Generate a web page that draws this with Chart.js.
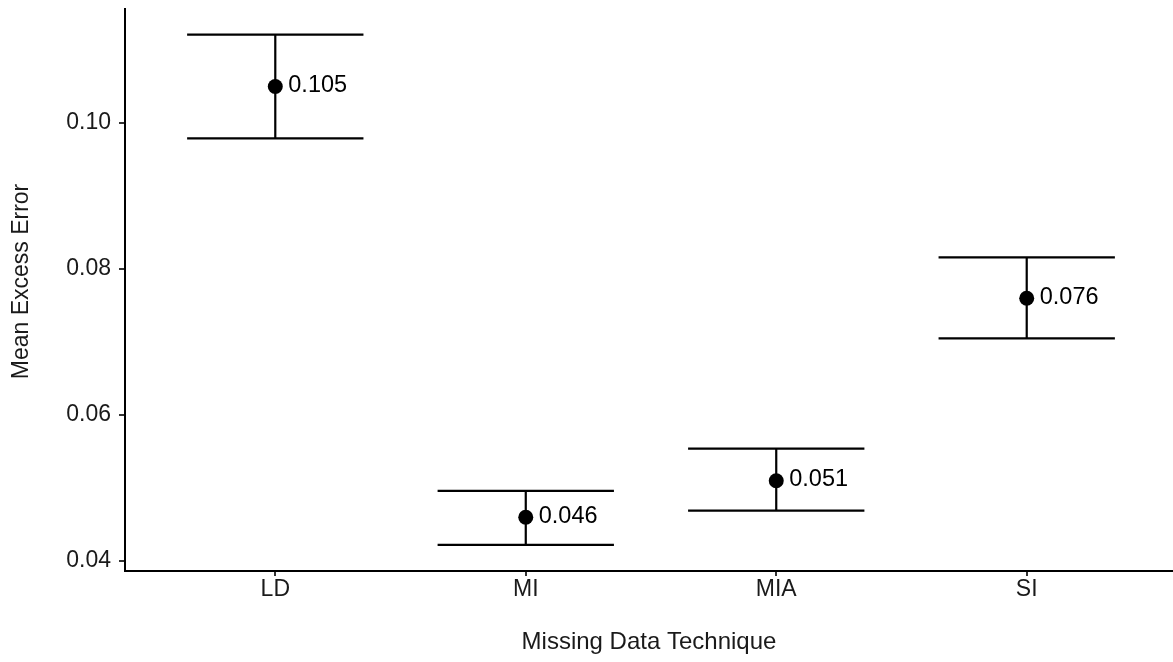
<!DOCTYPE html>
<html>
<head>
<meta charset="utf-8">
<title>Mean Excess Error by Missing Data Technique</title>
<script src="https://cdn.jsdelivr.net/npm/chart.js@4.4.1/dist/chart.umd.min.js"></script>
<style>
  html, body { margin: 0; padding: 0; background: #ffffff; }
  #wrap { width: 1173px; height: 662px; position: relative; }
  canvas { display: block; }
</style>
</head>
<body>
<div id="wrap"><canvas id="chart" width="1173" height="662"></canvas></div>
<script>
// Techniques compared and their mean excess error with interval bounds
const techniques = ['LD', 'MI', 'MIA', 'SI'];
const meanError  = [0.105, 0.046, 0.051, 0.076];
const lowerBound = [0.0979, 0.0422, 0.0469, 0.0705];
const upperBound = [0.1121, 0.0496, 0.0554, 0.0816];
const yTickValues = [0.04, 0.06, 0.08, 0.10];

const FONT_FAMILY = "'Liberation Sans', Arial, Helvetica, sans-serif";
const TEXT_COLOR = '#1a1a1a';
const CAP_HALF_WIDTH = 0.352;
const Y_TITLE = 'Mean Excess Error';

// Error bars: vertical stem plus horizontal caps, placed through the chart scales
const errorBarPlugin = {
  id: 'errorBars',
  beforeDatasetsDraw(chart) {
    const { ctx, scales: { x, y } } = chart;
    ctx.save();
    ctx.strokeStyle = '#000000';
    ctx.lineWidth = 2.2;
    ctx.lineCap = 'butt';
    techniques.forEach((_, i) => {
      const cx = x.getPixelForValue(i);
      const xl = x.getPixelForValue(i - CAP_HALF_WIDTH);
      const xr = x.getPixelForValue(i + CAP_HALF_WIDTH);
      const yLo = y.getPixelForValue(lowerBound[i]);
      const yHi = y.getPixelForValue(upperBound[i]);
      ctx.beginPath();
      ctx.moveTo(cx, yLo); ctx.lineTo(cx, yHi);
      ctx.moveTo(xl, yHi); ctx.lineTo(xr, yHi);
      ctx.moveTo(xl, yLo); ctx.lineTo(xr, yLo);
      ctx.stroke();
    });
    ctx.restore();
  }
};

// Value labels written to the right of each mean point
const valueLabelPlugin = {
  id: 'valueLabels',
  afterDatasetsDraw(chart) {
    const { ctx } = chart;
    const meta = chart.getDatasetMeta(0);
    ctx.save();
    ctx.font = '23.5px ' + FONT_FAMILY;
    ctx.fillStyle = '#000000';
    ctx.textAlign = 'left';
    ctx.textBaseline = 'middle';
    meta.data.forEach((pt, i) => {
      ctx.fillText(String(meanError[i]), pt.x + 13, pt.y - 1);
    });
    ctx.restore();
  }
};

// Rotated y-axis title, set slightly above the plot's vertical centre
const yTitlePlugin = {
  id: 'yTitle',
  afterDraw(chart) {
    const { ctx, chartArea } = chart;
    ctx.save();
    ctx.font = '23px ' + FONT_FAMILY;
    ctx.fillStyle = TEXT_COLOR;
    ctx.textAlign = 'center';
    ctx.textBaseline = 'middle';
    ctx.translate(21.5, (chartArea.top + chartArea.bottom) / 2 - 8.5);
    ctx.rotate(-Math.PI / 2);
    ctx.fillText(Y_TITLE, 0, 0);
    ctx.restore();
  }
};

new Chart(document.getElementById('chart'), {
  type: 'scatter',
  data: {
    datasets: [{
      label: 'Mean Excess Error',
      data: meanError.map((v, i) => ({ x: i, y: v })),
      pointRadius: 7.5,
      pointHoverRadius: 7.5,
      pointBackgroundColor: '#000000',
      pointBorderColor: '#000000',
      pointBorderWidth: 0
    }]
  },
  options: {
    responsive: false,
    animation: false,
    devicePixelRatio: 1,
    layout: { padding: { top: 9, left: 0, right: 0, bottom: 0 }, autoPadding: false },
    plugins: {
      legend: { display: false },
      tooltip: { enabled: false }
    },
    scales: {
      x: {
        type: 'linear',
        min: -0.6,
        max: 3.584,
        afterBuildTicks(scale) {
          scale.ticks = techniques.map((_, i) => ({ value: i }));
        },
        afterFit(scale) {
          scale.height = 91;
          scale.paddingLeft = 0;
          scale.paddingRight = 0;
        },
        ticks: {
          callback: (v) => techniques[v],
          autoSkip: false,
          maxRotation: 0,
          padding: 0,
          color: TEXT_COLOR,
          font: { family: FONT_FAMILY, size: 23 }
        },
        grid: {
          drawOnChartArea: false,
          drawTicks: true,
          tickLength: 5,
          color: '#333333',
          lineWidth: 2
        },
        border: { display: true, color: '#000000', width: 2 },
        title: {
          display: true,
          text: 'Missing Data Technique',
          color: TEXT_COLOR,
          font: { family: FONT_FAMILY, size: 24 },
          padding: { top: 0, bottom: 5 }
        }
      },
      y: {
        type: 'linear',
        min: 0.03863,
        max: 0.11562,
        afterBuildTicks(scale) {
          scale.ticks = yTickValues.map(v => ({ value: v }));
        },
        afterFit(scale) {
          scale.width = 125;
          scale.paddingTop = 0;
          scale.paddingBottom = 0;
        },
        ticks: {
          callback: (v) => v.toFixed(2),
          padding: 8,
          color: TEXT_COLOR,
          font: { family: FONT_FAMILY, size: 23 }
        },
        grid: {
          drawOnChartArea: false,
          drawTicks: true,
          tickLength: 6,
          color: '#333333',
          lineWidth: 2
        },
        border: { display: true, color: '#000000', width: 2 },
        title: { display: false }
      }
    }
  },
  plugins: [errorBarPlugin, valueLabelPlugin, yTitlePlugin]
});
</script>
</body>
</html>
